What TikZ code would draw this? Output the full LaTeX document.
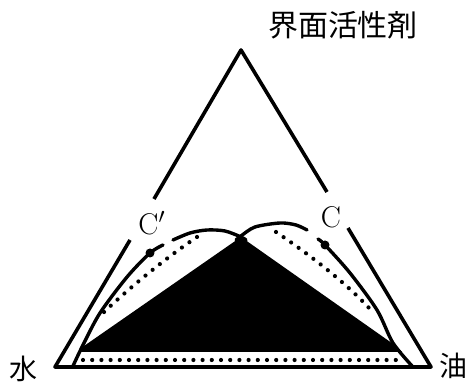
\documentclass[tikz,border=0pt]{standalone}
\usepackage{fontspec}
\newfontfamily\jpfont{Noto Sans CJK JP}
\begin{document}
\begin{tikzpicture}[x=0.5pt,y=-0.5pt,line join=round,
  side/.style={line width=1.8pt},
  binodal/.style={line width=1.7pt,line cap=round},
  dotline/.style={line width=2.1pt,line cap=round,dash pattern=on 0pt off 4.6pt},
  lab/.style={font=\fontsize{15}{17}\selectfont,inner sep=0pt}]
\useasboundingbox (0,0) rectangle (467,384);
% corners of the outer triangle
\coordinate (W) at (55,367);
\coordinate (O) at (431,367);
\coordinate (S) at (241,50);
% gaps for the labels
\coordinate (gl1) at (130,240);
\coordinate (gl2) at (154,199);
\coordinate (gr1) at (348,228);
\coordinate (gr2) at (327,192);
\draw[side] (gl1) -- (W) -- (O) -- (gr1);
\draw[side] (gl2) -- (S) -- (gr2);
% three-phase region
\coordinate (P) at (241,237);
\fill (P) -- (84,346) -- (78,352) -- (402,352) -- (396,346) -- cycle;
% binodal curves
\draw[binodal] plot[smooth] coordinates {(73,366) (83,345) (100,313) (127,277) (150,253) (163,245)};
\draw[binodal] plot[smooth] coordinates {(173,240) (190,233) (207,230) (225,231) (241,237) (246,240)};
\draw[binodal] plot[smooth] coordinates {(236,240) (241,236) (255,227) (280,223) (296,225) (307,230)};
\draw[binodal] plot[smooth] coordinates {(318,239) (325,245) (350,273) (377,310) (393,343) (413,367)};
% plait points
\fill (150,253) circle (4.5);
\fill (325,245) circle (4.5);
% tie line envelopes
\draw[dotline] (197,237) .. controls (160,262) and (125,292) .. (103,313);
\draw[dotline] (276,232) .. controls (310,255) and (345,282) .. (370,309);
\draw[dotline] (83,360) -- (402,360);
% labels
\node[lab] (top) at (343,25) {\jpfont 界面活性剤};
\node[lab,font=\fontsize{14}{16}\selectfont] (water) at (24,369) {\jpfont 水};
\node[lab,font=\fontsize{14}{16}\selectfont] (oil) at (453,366) {\jpfont 油};
\node[lab] (cp) at (152,223) {C$'$};
\node[lab] (c) at (331,217) {C};
\end{tikzpicture}
\end{document}
